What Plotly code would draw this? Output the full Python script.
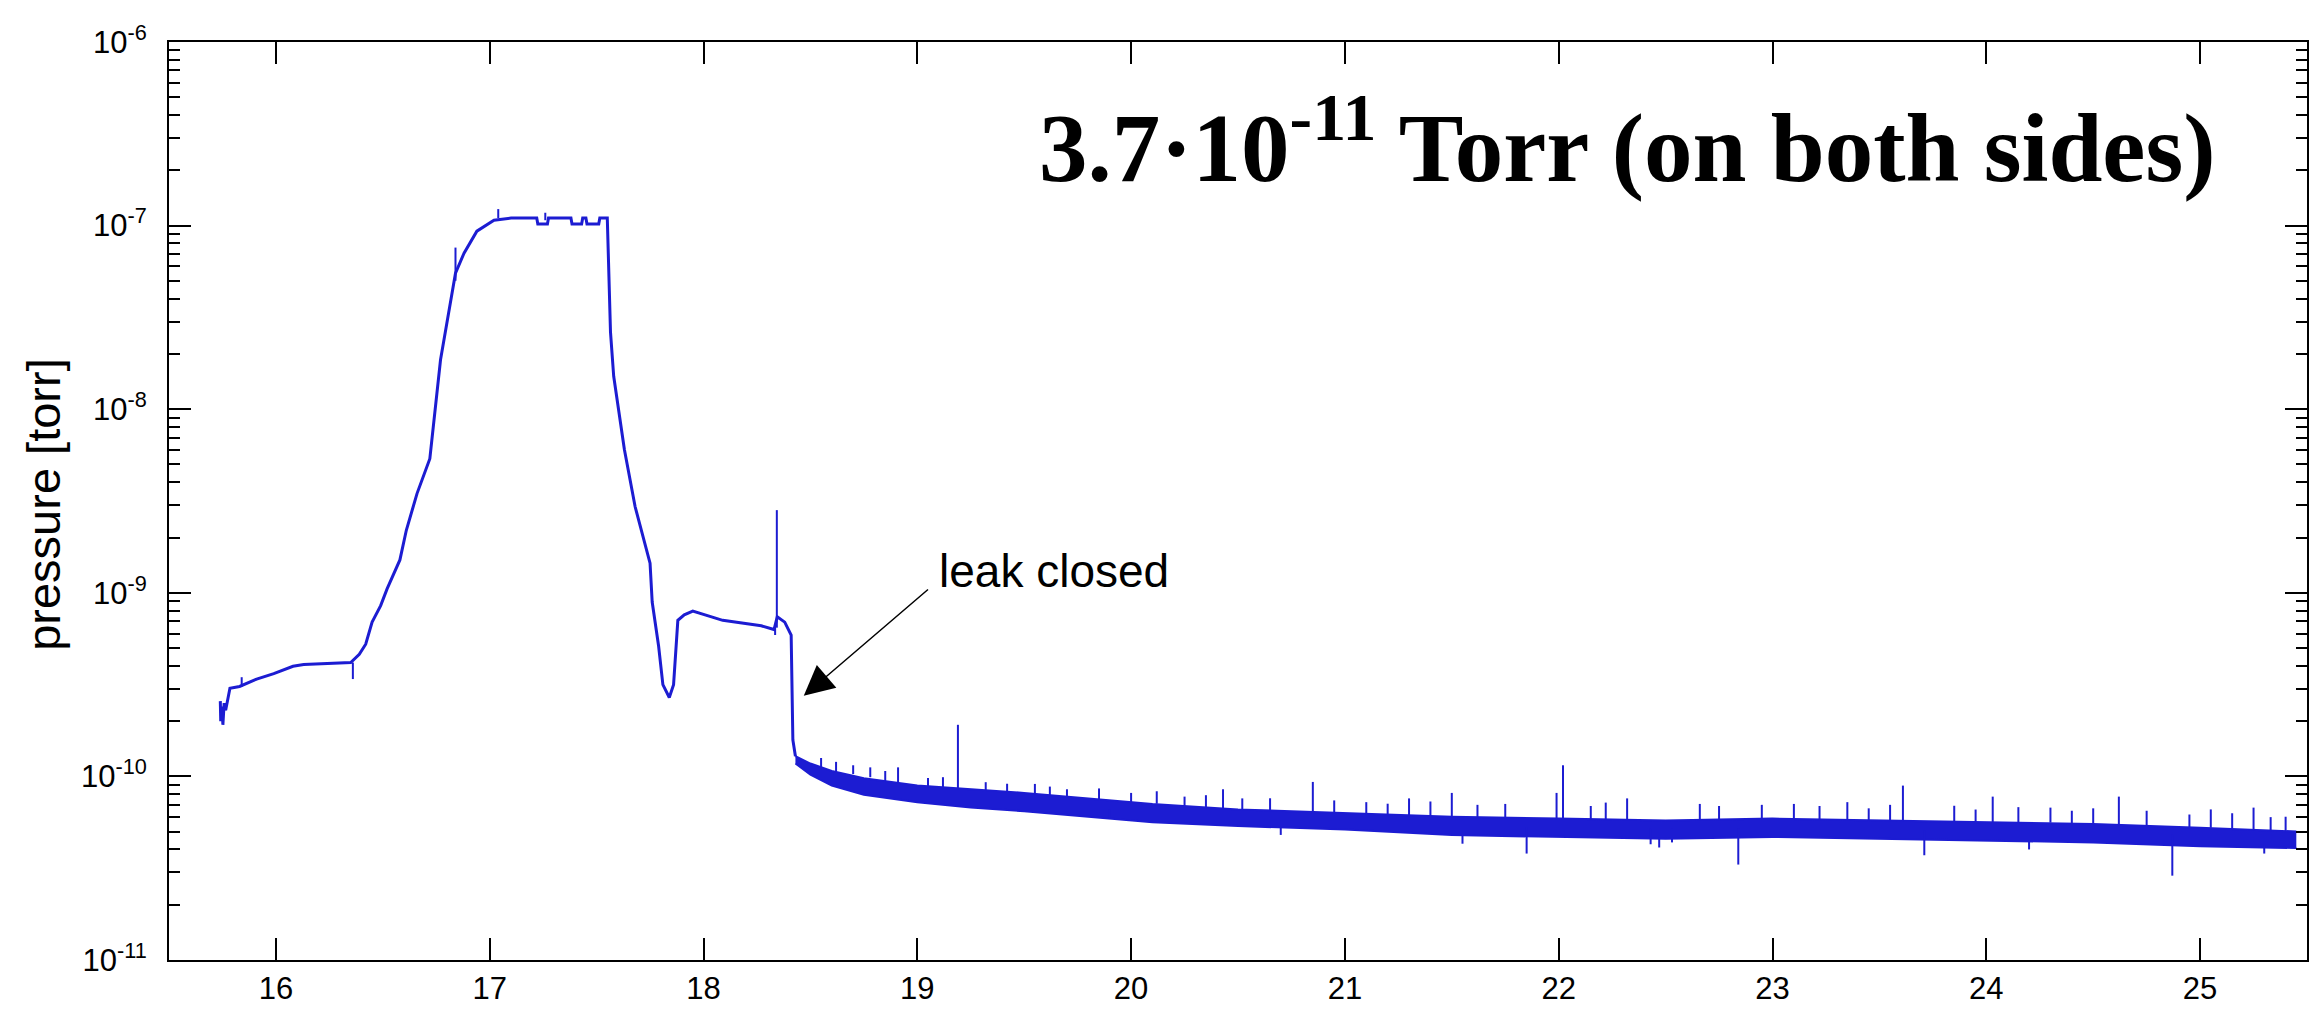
import plotly.graph_objects as go

# ---------------- data ----------------
time_h = [15.740, 15.742, 15.748, 15.752, 15.758, 15.765, 15.785, 15.83, 15.91, 15.99,
          16.08, 16.13, 16.35, 16.39, 16.42, 16.45, 16.49, 16.52, 16.58, 16.61,
          16.66, 16.72, 16.77, 16.81, 16.84, 16.88, 16.94, 17.02, 17.10, 17.22,
          17.225, 17.27, 17.275, 17.38, 17.385, 17.43, 17.435, 17.45, 17.455, 17.51,
          17.515, 17.55, 17.56, 17.565, 17.58, 17.63, 17.68, 17.72, 17.75, 17.76,
          17.79, 17.81, 17.84, 17.86, 17.88, 17.91, 17.95, 18.09, 18.27, 18.33,
          18.345, 18.38, 18.41, 18.418, 18.43]
pressure = [2.57e-10, 2.00e-10, 2.40e-10, 1.91e-10, 2.51e-10, 2.29e-10, 3.02e-10, 3.09e-10, 3.39e-10, 3.63e-10,
            3.98e-10, 4.07e-10, 4.17e-10, 4.62e-10, 5.25e-10, 6.92e-10, 8.51e-10, 1.05e-9, 1.51e-9, 2.19e-9,
            3.47e-9, 5.37e-9, 1.86e-8, 3.39e-8, 5.50e-8, 7.08e-8, 9.33e-8, 1.07e-7, 1.10e-7, 1.10e-7,
            1.02e-7, 1.02e-7, 1.10e-7, 1.10e-7, 1.02e-7, 1.02e-7, 1.10e-7, 1.10e-7, 1.02e-7, 1.02e-7,
            1.10e-7, 1.10e-7, 5.01e-8, 2.63e-8, 1.51e-8, 6.03e-9, 2.95e-9, 2.00e-9, 1.45e-9, 8.91e-10,
            5.13e-10, 3.16e-10, 2.69e-10, 3.16e-10, 7.08e-10, 7.59e-10, 7.94e-10, 7.08e-10, 6.61e-10, 6.31e-10,
            7.41e-10, 6.92e-10, 5.89e-10, 1.58e-10, 1.288e-10]

# noisy tail after the leak was closed: upper / lower edge of the band
tail_time = [18.43, 18.5, 18.6, 18.75, 19.0, 19.25, 19.5, 19.8, 20.1, 20.5,
             21.0, 21.5, 22.0, 22.5, 23.0, 23.5, 24.0, 24.5, 25.0, 25.45]
tail_upper = [1.288e-10, 1.175e-10, 1.072e-10, 9.77e-11, 8.91e-11, 8.51e-11, 8.13e-11, 7.59e-11, 7.08e-11, 6.61e-11,
              6.31e-11, 6.03e-11, 5.89e-11, 5.75e-11, 5.89e-11, 5.75e-11, 5.62e-11, 5.50e-11, 5.25e-11, 5.01e-11]
tail_lower = [1.175e-10, 1.023e-10, 8.91e-11, 7.94e-11, 7.24e-11, 6.76e-11, 6.46e-11, 6.03e-11, 5.62e-11, 5.37e-11,
              5.13e-11, 4.79e-11, 4.68e-11, 4.57e-11, 4.68e-11, 4.57e-11, 4.47e-11, 4.37e-11, 4.17e-11, 4.07e-11]

# isolated spikes: time, base value, tip value
spike_time = [15.84, 16.36, 16.84, 17.04, 17.26, 18.343, 18.335, 18.55, 18.62, 18.70,
              18.78, 18.85, 18.91, 19.05, 19.12, 19.19, 19.32, 19.42, 19.55, 19.62,
              19.70, 19.85, 19.90, 20.00, 20.12, 20.25, 20.35, 20.43, 20.52, 20.65,
              20.70, 20.85, 20.95, 21.10, 21.20, 21.30, 21.40, 21.50, 21.55, 21.62,
              21.75, 21.85, 21.99, 22.02, 22.15, 22.22, 22.32, 22.43, 22.47, 22.53,
              22.66, 22.75, 22.84, 22.95, 23.10, 23.22, 23.35, 23.45, 23.55, 23.61,
              23.71, 23.85, 23.95, 24.03, 24.15, 24.20, 24.30, 24.40, 24.50, 24.62,
              24.75, 24.87, 24.95, 25.05, 25.15, 25.25, 25.30, 25.33, 25.40]
spike_base = [3.09e-10, 4.17e-10, 5.01e-8, 1.10e-7, 1.07e-7, 6.46e-10, 6.46e-10, 1.12e-10, 1.06e-10, 1.03e-10,
              9.9e-11, 9.4e-11, 9.2e-11, 8.8e-11, 8.7e-11, 8.5e-11, 8.4e-11, 8.2e-11, 8.0e-11, 7.9e-11,
              7.8e-11, 7.5e-11, 6.6e-11, 7.2e-11, 7.1e-11, 6.9e-11, 6.8e-11, 6.7e-11, 6.6e-11, 6.5e-11,
              5.3e-11, 6.3e-11, 6.3e-11, 6.2e-11, 6.2e-11, 6.1e-11, 6.1e-11, 6.0e-11, 4.8e-11, 6.0e-11,
              5.9e-11, 5.3e-11, 5.9e-11, 5.9e-11, 5.85e-11, 5.85e-11, 5.8e-11, 5.2e-11, 4.6e-11, 5.2e-11,
              5.8e-11, 5.8e-11, 5.2e-11, 5.9e-11, 5.9e-11, 5.85e-11, 5.8e-11, 5.75e-11, 5.75e-11, 5.7e-11,
              5.1e-11, 5.7e-11, 5.65e-11, 5.6e-11, 5.6e-11, 4.5e-11, 5.6e-11, 5.55e-11, 5.5e-11, 5.45e-11,
              5.4e-11, 4.8e-11, 5.3e-11, 5.25e-11, 5.2e-11, 5.1e-11, 4.2e-11, 5.1e-11, 5.05e-11]
spike_tip = [3.47e-10, 3.39e-10, 7.59e-8, 1.23e-7, 1.175e-7, 2.82e-9, 5.89e-10, 1.26e-10, 1.20e-10, 1.15e-10,
             1.12e-10, 1.07e-10, 1.12e-10, 9.8e-11, 9.9e-11, 1.91e-10, 9.3e-11, 9.12e-11, 9.1e-11, 8.8e-11,
             8.51e-11, 8.6e-11, 5.9e-11, 8.13e-11, 8.3e-11, 7.76e-11, 7.9e-11, 8.51e-11, 7.59e-11, 7.6e-11,
             4.8e-11, 9.33e-11, 7.4e-11, 7.24e-11, 7.1e-11, 7.59e-11, 7.3e-11, 8.13e-11, 4.3e-11, 7.0e-11,
             7.08e-11, 3.80e-11, 8.13e-11, 1.15e-10, 6.9e-11, 7.2e-11, 7.59e-11, 4.27e-11, 4.1e-11, 4.37e-11,
             7.08e-11, 6.9e-11, 3.31e-11, 7.0e-11, 7.08e-11, 6.9e-11, 7.24e-11, 6.7e-11, 7.0e-11, 8.91e-11,
             3.72e-11, 6.92e-11, 6.6e-11, 7.76e-11, 6.8e-11, 4.0e-11, 6.76e-11, 6.5e-11, 6.7e-11, 7.76e-11,
             6.5e-11, 2.88e-11, 6.2e-11, 6.61e-11, 6.3e-11, 6.76e-11, 3.8e-11, 6.0e-11, 6.03e-11]

x_ticks = [16, 17, 18, 19, 20, 21, 22, 23, 24, 25]
y_ticks = [1e-11, 1e-10, 1e-9, 1e-8, 1e-7, 1e-6]
y_tick_text = ["10<sup>-11</sup>", "10<sup>-10</sup>", "10<sup>-9</sup>",
               "10<sup>-8</sup>", "10<sup>-7</sup>", "10<sup>-6</sup>"]

BLUE = "#1c1cd2"
SANS = "Liberation Sans, Arial, sans-serif"

fig = go.Figure()

fig.add_trace(go.Scatter(x=time_h, y=pressure, mode="lines",
                         line=dict(color=BLUE, width=3), showlegend=False))
fig.add_trace(go.Scatter(x=tail_time, y=tail_upper, mode="lines",
                         line=dict(color=BLUE, width=2), showlegend=False))
fig.add_trace(go.Scatter(x=tail_time, y=tail_lower, mode="lines", fill="tonexty",
                         fillcolor=BLUE, line=dict(color=BLUE, width=2), showlegend=False))

sx, sy = [], []
for t, b, p in zip(spike_time, spike_base, spike_tip):
    sx += [t, t, None]
    sy += [b, p, None]
fig.add_trace(go.Scatter(x=sx, y=sy, mode="lines", line=dict(color=BLUE, width=2),
                         showlegend=False, connectgaps=False))

axis_common = dict(showline=True, linecolor="black", linewidth=2, mirror="allticks",
                   ticks="inside", tickcolor="black", tickwidth=2, ticklen=22,
                   showgrid=False, zeroline=False,
                   tickfont=dict(family=SANS, size=31, color="black"))

fig.update_xaxes(range=[15.5, 25.5], tickmode="array", tickvals=x_ticks,
                 ticktext=[str(v) for v in x_ticks], **axis_common)
fig.update_yaxes(type="log", range=[-11, -6], tickmode="array", tickvals=y_ticks,
                 ticktext=y_tick_text, ticklabelstandoff=14,
                 minor=dict(ticks="inside", ticklen=11, tickcolor="black", tickwidth=2,
                            dtick="D1", showgrid=False),
                 **axis_common)

fig.add_annotation(xref="paper", yref="paper", x=-0.0584, y=0.496, text="pressure [torr]",
                   textangle=-90, showarrow=False, xanchor="center", yanchor="middle",
                   font=dict(family=SANS, size=47, color="black"))

fig.add_annotation(xref="paper", yref="paper", x=0.682, y=0.893,
                   text="<b>3.7·10<sup>-11</sup> Torr (on both sides)</b>",
                   showarrow=False, xanchor="center", yanchor="middle",
                   font=dict(family="Liberation Serif, Times New Roman, serif", size=97, color="black"))

# "leak closed" arrow (tip at the drop, tail toward the label)
fig.add_annotation(x=18.469, y=-9.561, xref="x", yref="y", ax=19.057, ay=-8.975,
                   axref="x", ayref="y", text="", showarrow=True, arrowhead=2,
                   arrowsize=4, arrowwidth=1.5, arrowcolor="black", standoff=0)
fig.add_annotation(x=19.641, y=-8.88, xref="x", yref="y", text="leak closed",
                   showarrow=False, xanchor="center", yanchor="middle",
                   font=dict(family=SANS, size=46, color="black"))

fig.update_layout(width=2320, height=1017, margin=dict(l=169, r=11, t=42, b=44),
                  paper_bgcolor="white", plot_bgcolor="white")

fig.write_html("out.html")
